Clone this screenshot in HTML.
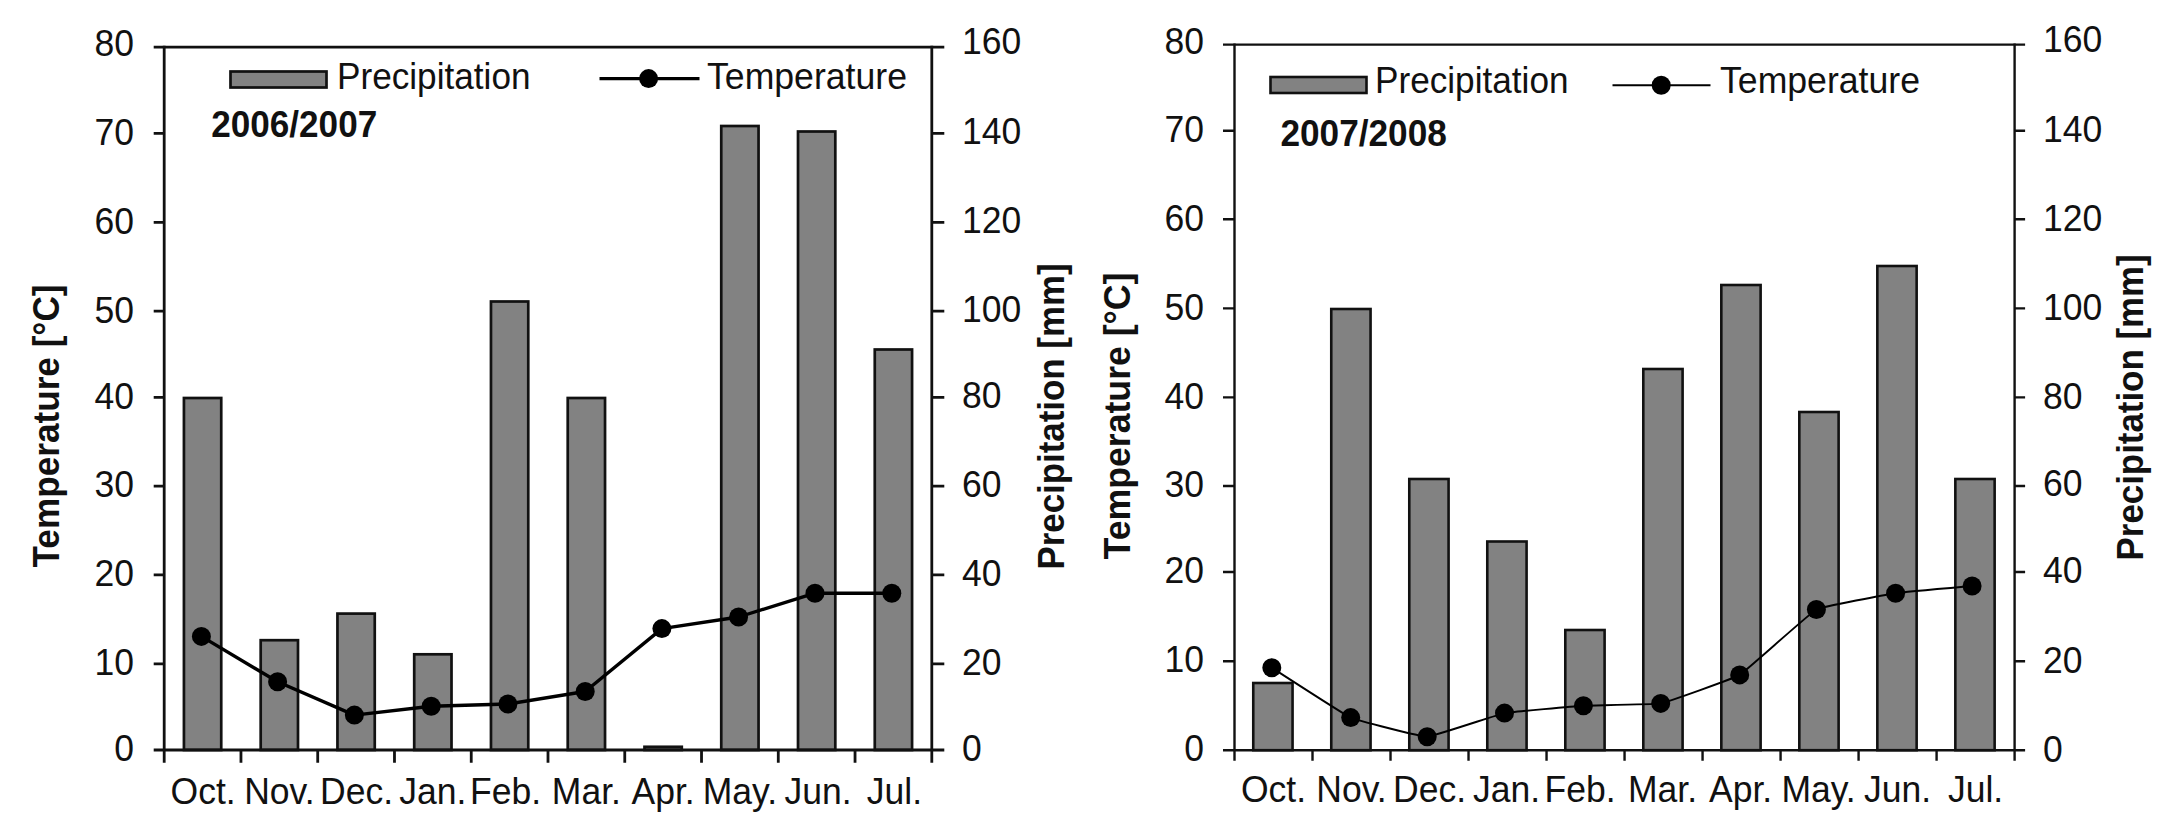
<!DOCTYPE html>
<html lang="en"><head><meta charset="utf-8"><title>Precipitation and temperature 2006/2007 and 2007/2008</title>
<style>html,body{margin:0;padding:0;background:#fff}body{width:2180px;height:830px;overflow:hidden}svg{display:block}text{font-family:'Liberation Sans', sans-serif}</style>
</head><body>
<svg width="2180" height="830" viewBox="0 0 2180 830">
<rect width="2180" height="830" fill="#fff"/>
<g id="chart-2006-2007">
<rect x="183.93" y="398" width="37.3" height="352" fill="#828282" stroke="#111" stroke-width="2.7"/>
<rect x="260.69" y="640.2" width="37.3" height="109.8" fill="#828282" stroke="#111" stroke-width="2.7"/>
<rect x="337.45" y="613.6" width="37.3" height="136.4" fill="#828282" stroke="#111" stroke-width="2.7"/>
<rect x="414.21" y="654.3" width="37.3" height="95.7" fill="#828282" stroke="#111" stroke-width="2.7"/>
<rect x="490.97" y="301.5" width="37.3" height="448.5" fill="#828282" stroke="#111" stroke-width="2.7"/>
<rect x="567.73" y="398" width="37.3" height="352" fill="#828282" stroke="#111" stroke-width="2.7"/>
<rect x="644.49" y="746.8" width="37.3" height="3.2" fill="#828282" stroke="#111" stroke-width="2.7"/>
<rect x="721.25" y="126" width="37.3" height="624" fill="#828282" stroke="#111" stroke-width="2.7"/>
<rect x="798.01" y="131.5" width="37.3" height="618.5" fill="#828282" stroke="#111" stroke-width="2.7"/>
<rect x="874.77" y="349.5" width="37.3" height="400.5" fill="#828282" stroke="#111" stroke-width="2.7"/>
<g stroke="#111" stroke-width="2.8" fill="none" stroke-linecap="butt">
<path d="M153.7 47.2H944.3"/>
<path d="M153.7 750H944.3"/>
<path d="M164.2 45.8V762.8"/>
<path d="M931.8 45.8V762.8"/>
<path d="M153.7 663.8H164.2M931.8 663.8H944.3M153.7 574.8H164.2M931.8 574.8H944.3M153.7 486.1H164.2M931.8 486.1H944.3M153.7 397.4H164.2M931.8 397.4H944.3M153.7 311.1H164.2M931.8 311.1H944.3M153.7 222.3H164.2M931.8 222.3H944.3M153.7 133.3H164.2M931.8 133.3H944.3M240.96 750V762.8M317.72 750V762.8M394.48 750V762.8M471.24 750V762.8M548 750V762.8M624.76 750V762.8M701.52 750V762.8M778.28 750V762.8M855.04 750V762.8"/>
</g>
<path d="M201.4 636.4L277.6 681.8L354.4 715.1L431.2 706.2L507.9 704L585.2 691.5L661.9 628.6L738.6 617L815 593.2L891.8 593.2" fill="none" stroke="#000" stroke-width="3.4" stroke-linejoin="round"/>
<circle cx="201.4" cy="636.4" r="9.5" fill="#000"/>
<circle cx="277.6" cy="681.8" r="9.5" fill="#000"/>
<circle cx="354.4" cy="715.1" r="9.5" fill="#000"/>
<circle cx="431.2" cy="706.2" r="9.5" fill="#000"/>
<circle cx="507.9" cy="704" r="9.5" fill="#000"/>
<circle cx="585.2" cy="691.5" r="9.5" fill="#000"/>
<circle cx="661.9" cy="628.6" r="9.5" fill="#000"/>
<circle cx="738.6" cy="617" r="9.5" fill="#000"/>
<circle cx="815" cy="593.2" r="9.5" fill="#000"/>
<circle cx="891.8" cy="593.2" r="9.5" fill="#000"/>
<g font-size="37" fill="#111">
<text transform="translate(134 761.1) scale(0.96 1)" text-anchor="end">0</text>
<text transform="translate(134 674.9) scale(0.96 1)" text-anchor="end">10</text>
<text transform="translate(134 585.9) scale(0.96 1)" text-anchor="end">20</text>
<text transform="translate(134 497.2) scale(0.96 1)" text-anchor="end">30</text>
<text transform="translate(134 409.3) scale(0.96 1)" text-anchor="end">40</text>
<text transform="translate(134 323) scale(0.96 1)" text-anchor="end">50</text>
<text transform="translate(134 234.2) scale(0.96 1)" text-anchor="end">60</text>
<text transform="translate(134 145.2) scale(0.96 1)" text-anchor="end">70</text>
<text transform="translate(134 55.9) scale(0.96 1)" text-anchor="end">80</text>
<text transform="translate(962 760.8) scale(0.96 1)">0</text>
<text transform="translate(962 674.6) scale(0.96 1)">20</text>
<text transform="translate(962 585.6) scale(0.96 1)">40</text>
<text transform="translate(962 496.9) scale(0.96 1)">60</text>
<text transform="translate(962 408.2) scale(0.96 1)">80</text>
<text transform="translate(962 321.9) scale(0.96 1)">100</text>
<text transform="translate(962 233.1) scale(0.96 1)">120</text>
<text transform="translate(962 144.1) scale(0.96 1)">140</text>
<text transform="translate(962 54.2) scale(0.96 1)">160</text>
<text transform="translate(203.08 804.2) scale(0.96 1)" text-anchor="middle">Oct.</text>
<text transform="translate(279.34 804.2) scale(0.96 1)" text-anchor="middle">Nov.</text>
<text transform="translate(356.6 804.2) scale(0.96 1)" text-anchor="middle">Dec.</text>
<text transform="translate(432.86 804.2) scale(0.96 1)" text-anchor="middle">Jan.</text>
<text transform="translate(505.62 804.2) scale(0.96 1)" text-anchor="middle">Feb.</text>
<text transform="translate(586.38 804.2) scale(0.96 1)" text-anchor="middle">Mar.</text>
<text transform="translate(663.14 804.2) scale(0.96 1)" text-anchor="middle">Apr.</text>
<text transform="translate(739.9 804.2) scale(0.96 1)" text-anchor="middle">May.</text>
<text transform="translate(818.16 804.2) scale(0.96 1)" text-anchor="middle">Jun.</text>
<text transform="translate(894.42 804.2) scale(0.96 1)" text-anchor="middle">Jul.</text>
<text x="337" y="88.8" font-size="37" textLength="193.5" lengthAdjust="spacingAndGlyphs">Precipitation</text>
<text x="707" y="88.8" font-size="37" textLength="200" lengthAdjust="spacingAndGlyphs">Temperature</text>
</g>
<rect x="230.5" y="71.5" width="96" height="16" fill="#828282" stroke="#111" stroke-width="2.7"/>
<path d="M599.5 78.6H699.5" stroke="#000" stroke-width="3.4" fill="none"/>
<circle cx="648.6" cy="78.6" r="9.5" fill="#000"/>
<text x="211.2" y="137" font-size="37.5" font-weight="bold" fill="#111" textLength="166" lengthAdjust="spacingAndGlyphs">2006/2007</text>
<text transform="translate(58.8 426) rotate(-90)" text-anchor="middle" font-size="37" font-weight="bold" fill="#111" textLength="283" lengthAdjust="spacingAndGlyphs">Temperature [°C]</text>
<text transform="translate(1063.9 416.5) rotate(-90)" text-anchor="middle" font-size="37" font-weight="bold" fill="#111" textLength="306" lengthAdjust="spacingAndGlyphs">Precipitation [mm]</text>
</g>
<g id="chart-2007-2008">
<rect x="1253.26" y="683" width="39.3" height="67.2" fill="#828282" stroke="#111" stroke-width="2.6"/>
<rect x="1331.26" y="309" width="39.3" height="441.2" fill="#828282" stroke="#111" stroke-width="2.6"/>
<rect x="1409.28" y="479" width="39.3" height="271.2" fill="#828282" stroke="#111" stroke-width="2.6"/>
<rect x="1487.28" y="541.5" width="39.3" height="208.7" fill="#828282" stroke="#111" stroke-width="2.6"/>
<rect x="1565.3" y="630" width="39.3" height="120.2" fill="#828282" stroke="#111" stroke-width="2.6"/>
<rect x="1643.3" y="369" width="39.3" height="381.2" fill="#828282" stroke="#111" stroke-width="2.6"/>
<rect x="1721.32" y="285" width="39.3" height="465.2" fill="#828282" stroke="#111" stroke-width="2.6"/>
<rect x="1799.32" y="412" width="39.3" height="338.2" fill="#828282" stroke="#111" stroke-width="2.6"/>
<rect x="1877.34" y="266" width="39.3" height="484.2" fill="#828282" stroke="#111" stroke-width="2.6"/>
<rect x="1955.34" y="479" width="39.3" height="271.2" fill="#828282" stroke="#111" stroke-width="2.6"/>
<g stroke="#111" stroke-width="2.4" fill="none" stroke-linecap="butt">
<path d="M1223 44.6H2025.1"/>
<path d="M1223 750.2H2025.1"/>
<path d="M1234.5 43.4V760.7"/>
<path d="M2014.6 43.4V760.7"/>
<path d="M1223 661.2H1234.5M2014.6 661.2H2025.1M1223 572H1234.5M2014.6 572H2025.1M1223 486H1234.5M2014.6 486H2025.1M1223 397.4H1234.5M2014.6 397.4H2025.1M1223 308.4H1234.5M2014.6 308.4H2025.1M1223 219.3H1234.5M2014.6 219.3H2025.1M1223 130.8H1234.5M2014.6 130.8H2025.1M1312.51 750.2V760.7M1390.52 750.2V760.7M1468.53 750.2V760.7M1546.54 750.2V760.7M1624.55 750.2V760.7M1702.56 750.2V760.7M1780.57 750.2V760.7M1858.58 750.2V760.7M1936.59 750.2V760.7"/>
</g>
<path d="M1271.8 667.7C1274.96 669.7 1344.48 714.84 1350.7 717.6C1356.92 720.36 1421.05 736.88 1427.2 736.7C1433.35 736.52 1498.25 714.34 1504.5 713.1C1510.75 711.86 1577.15 706.09 1583.4 705.7C1589.65 705.31 1654.45 704.63 1660.7 703.4C1666.95 702.17 1733.47 678.66 1739.7 674.9C1745.93 671.14 1810.16 612.77 1816.4 609.5C1822.64 606.23 1889.37 594.14 1895.6 593.2C1901.83 592.26 1969.04 586.29 1972.1 586" fill="none" stroke="#000" stroke-width="1.9" stroke-linejoin="round"/>
<circle cx="1271.8" cy="667.7" r="9.5" fill="#000"/>
<circle cx="1350.7" cy="717.6" r="9.5" fill="#000"/>
<circle cx="1427.2" cy="736.7" r="9.5" fill="#000"/>
<circle cx="1504.5" cy="713.1" r="9.5" fill="#000"/>
<circle cx="1583.4" cy="705.7" r="9.5" fill="#000"/>
<circle cx="1660.7" cy="703.4" r="9.5" fill="#000"/>
<circle cx="1739.7" cy="674.9" r="9.5" fill="#000"/>
<circle cx="1816.4" cy="609.5" r="9.5" fill="#000"/>
<circle cx="1895.6" cy="593.2" r="9.5" fill="#000"/>
<circle cx="1972.1" cy="586" r="9.5" fill="#000"/>
<g font-size="37" fill="#111">
<text transform="translate(1204 761.4) scale(0.96 1)" text-anchor="end">0</text>
<text transform="translate(1204 672.4) scale(0.96 1)" text-anchor="end">10</text>
<text transform="translate(1204 583.2) scale(0.96 1)" text-anchor="end">20</text>
<text transform="translate(1204 497.2) scale(0.96 1)" text-anchor="end">30</text>
<text transform="translate(1204 408.6) scale(0.96 1)" text-anchor="end">40</text>
<text transform="translate(1204 319.6) scale(0.96 1)" text-anchor="end">50</text>
<text transform="translate(1204 230.5) scale(0.96 1)" text-anchor="end">60</text>
<text transform="translate(1204 142) scale(0.96 1)" text-anchor="end">70</text>
<text transform="translate(1204 54) scale(0.96 1)" text-anchor="end">80</text>
<text transform="translate(2043 761.9) scale(0.96 1)">0</text>
<text transform="translate(2043 672.6) scale(0.96 1)">20</text>
<text transform="translate(2043 583.4) scale(0.96 1)">40</text>
<text transform="translate(2043 495.6) scale(0.96 1)">60</text>
<text transform="translate(2043 408.8) scale(0.96 1)">80</text>
<text transform="translate(2043 319.8) scale(0.96 1)">100</text>
<text transform="translate(2043 230.7) scale(0.96 1)">120</text>
<text transform="translate(2043 141.9) scale(0.96 1)">140</text>
<text transform="translate(2043 51.9) scale(0.96 1)">160</text>
<text transform="translate(1273.51 801.6) scale(0.96 1)" text-anchor="middle">Oct.</text>
<text transform="translate(1351.51 801.6) scale(0.96 1)" text-anchor="middle">Nov.</text>
<text transform="translate(1429.53 801.6) scale(0.96 1)" text-anchor="middle">Dec.</text>
<text transform="translate(1506.53 801.6) scale(0.96 1)" text-anchor="middle">Jan.</text>
<text transform="translate(1580.05 801.6) scale(0.96 1)" text-anchor="middle">Feb.</text>
<text transform="translate(1662.55 801.6) scale(0.96 1)" text-anchor="middle">Mar.</text>
<text transform="translate(1740.57 801.6) scale(0.96 1)" text-anchor="middle">Apr.</text>
<text transform="translate(1818.57 801.6) scale(0.96 1)" text-anchor="middle">May.</text>
<text transform="translate(1897.59 801.6) scale(0.96 1)" text-anchor="middle">Jun.</text>
<text transform="translate(1975.59 801.6) scale(0.96 1)" text-anchor="middle">Jul.</text>
<text x="1375" y="93.3" font-size="37" textLength="193.5" lengthAdjust="spacingAndGlyphs">Precipitation</text>
<text x="1720" y="93.3" font-size="37" textLength="200" lengthAdjust="spacingAndGlyphs">Temperature</text>
</g>
<rect x="1270.5" y="77" width="96" height="16" fill="#828282" stroke="#111" stroke-width="2.6"/>
<path d="M1612.5 85.3H1710.5" stroke="#000" stroke-width="1.9" fill="none"/>
<circle cx="1661.2" cy="85.3" r="9.5" fill="#000"/>
<text x="1280.4" y="146.2" font-size="37.5" font-weight="bold" fill="#111" textLength="166.5" lengthAdjust="spacingAndGlyphs">2007/2008</text>
<text transform="translate(1130.4 416) rotate(-90)" text-anchor="middle" font-size="37" font-weight="bold" fill="#111" textLength="287" lengthAdjust="spacingAndGlyphs">Temperature [°C]</text>
<text transform="translate(2142.6 407.4) rotate(-90)" text-anchor="middle" font-size="37" font-weight="bold" fill="#111" textLength="306" lengthAdjust="spacingAndGlyphs">Precipitation [mm]</text>
</g>
</svg></body></html>
